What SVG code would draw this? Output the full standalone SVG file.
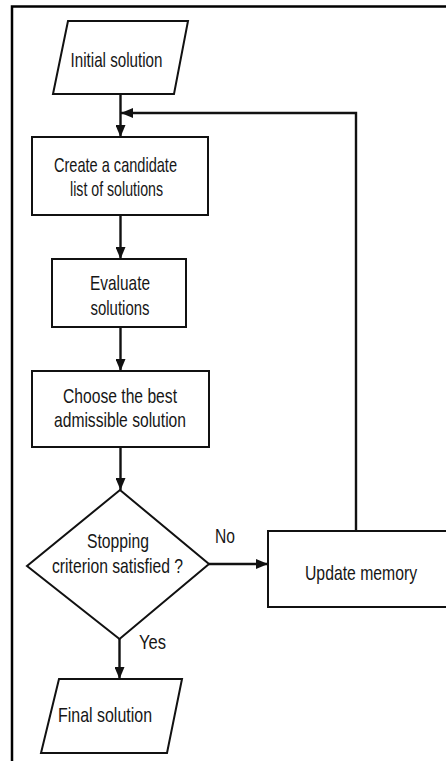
<svg xmlns="http://www.w3.org/2000/svg" width="446" height="761" viewBox="0 0 446 761">
  <defs>
    <marker id="arrow" viewBox="0 0 12 10" refX="12" refY="5" markerWidth="12" markerHeight="10" markerUnits="userSpaceOnUse" orient="auto">
      <path d="M0,0 L12,5 L0,10 Z" fill="#111"/>
    </marker>
    <style>
      .shape { fill: #fff; stroke: #111; stroke-width: 2; stroke-linejoin: miter; }
      .link { fill: none; stroke: #111; stroke-width: 2.4; }
      .label { font-family: "Liberation Sans", Arial, sans-serif; font-size: 21px; fill: #161616; }
      .frame { fill: none; stroke: #000; stroke-width: 2.5; }
    </style>
  </defs>

  <rect width="446" height="761" fill="#fff"/>

  <!-- page frame: top and left rules -->
  <path class="frame" d="M12,761 L12,6.5 L446,6.5"/>

  <g id="connectors">
    <line class="link" x1="120.5" y1="94" x2="120.5" y2="137" marker-end="url(#arrow)"/>
    <polyline class="link" points="356,531 356,113 121,113" marker-end="url(#arrow)"/>
    <line class="link" x1="120.5" y1="215" x2="120.5" y2="259" marker-end="url(#arrow)"/>
    <line class="link" x1="120.5" y1="327" x2="120.5" y2="371" marker-end="url(#arrow)"/>
    <line class="link" x1="120.5" y1="447" x2="120.5" y2="490" marker-end="url(#arrow)"/>
    <line class="link" x1="209" y1="564" x2="268" y2="564" stroke-width="3" marker-end="url(#arrow)"/>
    <line class="link" x1="119.5" y1="639" x2="119.5" y2="679" marker-end="url(#arrow)"/>
    <text class="label" x="215" y="543" textLength="20" lengthAdjust="spacingAndGlyphs">No</text>
    <text class="label" x="139" y="649" textLength="27" lengthAdjust="spacingAndGlyphs">Yes</text>
  </g>

  <g id="initial-solution">
    <polygon class="shape" points="68,21 188,21 174,94 53,94"/>
    <text class="label" x="70.5" y="66.5" textLength="92" lengthAdjust="spacingAndGlyphs">Initial solution</text>
  </g>

  <g id="create-candidates">
    <rect class="shape" x="32" y="137" width="176" height="78"/>
    <text class="label" x="54" y="172" textLength="123" lengthAdjust="spacingAndGlyphs">Create a candidate</text>
    <text class="label" x="70" y="196" textLength="93" lengthAdjust="spacingAndGlyphs">list of solutions</text>
  </g>

  <g id="evaluate">
    <rect class="shape" x="52" y="259" width="134" height="68"/>
    <text class="label" x="90" y="290" textLength="60" lengthAdjust="spacingAndGlyphs">Evaluate</text>
    <text class="label" x="90.5" y="315" textLength="59" lengthAdjust="spacingAndGlyphs">solutions</text>
  </g>

  <g id="choose-best">
    <rect class="shape" x="32" y="371" width="177" height="76"/>
    <text class="label" x="63" y="403" textLength="114" lengthAdjust="spacingAndGlyphs">Choose the best</text>
    <text class="label" x="54" y="427" textLength="132" lengthAdjust="spacingAndGlyphs">admissible solution</text>
  </g>

  <g id="stopping-criterion">
    <polygon class="shape" points="120,490 209,564 119.5,639 27,566"/>
    <text class="label" x="87" y="548" textLength="62" lengthAdjust="spacingAndGlyphs">Stopping</text>
    <text class="label" x="52" y="573" textLength="131" lengthAdjust="spacingAndGlyphs">criterion satisfied ?</text>
  </g>

  <g id="update-memory">
    <!-- box runs out to the right page edge, so only three sides are drawn -->
    <rect x="268" y="531" width="178" height="76" fill="#fff"/>
    <path d="M446,531 L268,531 L268,607 L446,607" fill="none" stroke="#111" stroke-width="2"/>
    <text class="label" x="305" y="580" textLength="112" lengthAdjust="spacingAndGlyphs">Update memory</text>
  </g>

  <g id="final-solution">
    <polygon class="shape" points="59,679 182,679 167,753 41,753"/>
    <text class="label" x="58" y="722" textLength="94" lengthAdjust="spacingAndGlyphs">Final solution</text>
  </g>
</svg>
